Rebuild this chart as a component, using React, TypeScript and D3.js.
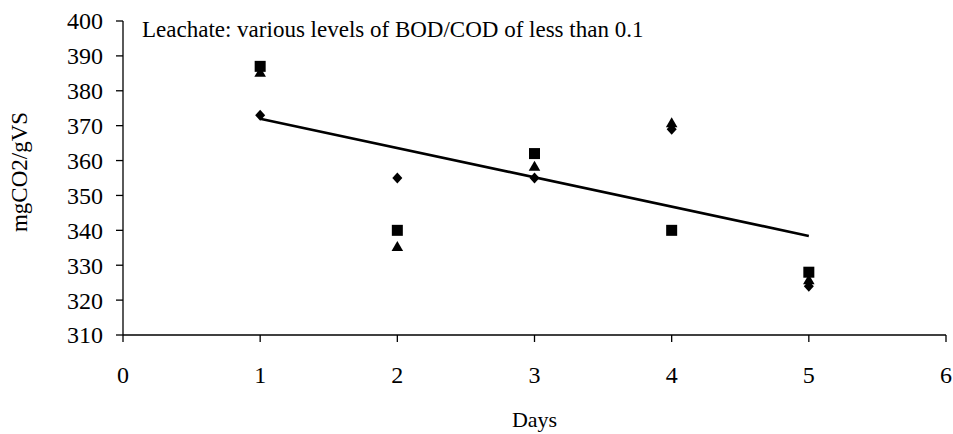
import React from "react";
import * as d3 from "d3";

const days = [1, 2, 3, 4, 5];
const seriesDiamond = [373, 355, 355, 369, 324];
const seriesTriangle = [385, 335, 358, 370.5, 325.5];
const seriesSquare = [387, 340, 362, 340, 328];
const xTicks = [0, 1, 2, 3, 4, 5, 6];
const yTicks = [310, 320, 330, 340, 350, 360, 370, 380, 390, 400];
const title = "Leachate: various levels of BOD/COD of less than 0.1";
const xTitle = "Days";
const yTitle = "mgCO2/gVS";

const W = 953;
const H = 434;
const FONT = "'Liberation Serif', 'Times New Roman', serif";

export default function App() {
  const x = d3.scaleLinear().domain([0, 6]).range([123, 946]);
  const y = d3.scaleLinear().domain([310, 400]).range([335, 21]);

  // linear trend fitted to the diamond series
  const mx = d3.mean(days)!;
  const my = d3.mean(seriesDiamond)!;
  const slope =
    d3.sum(days.map((d, i) => (d - mx) * (seriesDiamond[i] - my))) /
    d3.sum(days.map((d) => (d - mx) ** 2));
  const icpt = my - slope * mx;
  const x0 = d3.min(days)!;
  const x1 = d3.max(days)!;
  const trend = d3.line<number>()
    .x((d) => x(d))
    .y((d) => y(icpt + slope * d))([x0, x1]);

  const tri = d3.symbol(d3.symbolTriangle, 58)()!;
  const diamond = (cx: number, cy: number) =>
    `M${cx},${cy - 5.5}L${cx + 5},${cy}L${cx},${cy + 5.5}L${cx - 5},${cy}Z`;

  return (
    <svg width={W} height={H} style={{ position: "absolute", left: 0, top: 0 }}>
      <rect width={W} height={H} fill="#fff" />
      {/* axes */}
      <line x1={x(0)} x2={x(0)} y1={y(400)} y2={y(310)} stroke="#000" strokeWidth={1.3} />
      <line x1={x(0)} x2={x(6)} y1={y(310)} y2={y(310)} stroke="#000" strokeWidth={1.3} />
      {yTicks.map((t) => (
        <g key={"y" + t}>
          <line x1={x(0) - 7} x2={x(0)} y1={y(t)} y2={y(t)} stroke="#000" strokeWidth={1.3} />
          <text x={x(0) - 20} y={y(t)} dy="0.35em" textAnchor="end" fontFamily={FONT} fontSize={24}>
            {t}
          </text>
        </g>
      ))}
      {xTicks.map((t) => (
        <g key={"x" + t}>
          <line x1={x(t)} x2={x(t)} y1={y(310)} y2={y(310) + 7} stroke="#000" strokeWidth={1.3} />
          <text x={x(t)} y={y(310) + 48} textAnchor="middle" fontFamily={FONT} fontSize={24}>
            {t}
          </text>
        </g>
      ))}
      <text x={x(3)} y={427} textAnchor="middle" fontFamily={FONT} fontSize={22}>
        {xTitle}
      </text>
      <text
        transform={`translate(27, 172) rotate(-90)`}
        textAnchor="middle"
        fontFamily={FONT}
        fontSize={23}
      >
        {yTitle}
      </text>
      <text x={142} y={37} fontFamily={FONT} fontSize={23}>
        {title}
      </text>
      {/* trend line */}
      <path d={trend!} fill="none" stroke="#000" strokeWidth={2.6} />
      {/* markers */}
      {days.map((d, i) => (
        <path key={"d" + i} d={diamond(x(d), y(seriesDiamond[i]))} fill="#000" />
      ))}
      {days.map((d, i) => (
        <path
          key={"t" + i}
          d={tri}
          transform={`translate(${x(d)},${y(seriesTriangle[i])})`}
          fill="#000"
        />
      ))}
      {days.map((d, i) => (
        <rect
          key={"s" + i}
          x={x(d) - 5.5}
          y={y(seriesSquare[i]) - 5.5}
          width={11}
          height={11}
          fill="#000"
        />
      ))}
    </svg>
  );
}
